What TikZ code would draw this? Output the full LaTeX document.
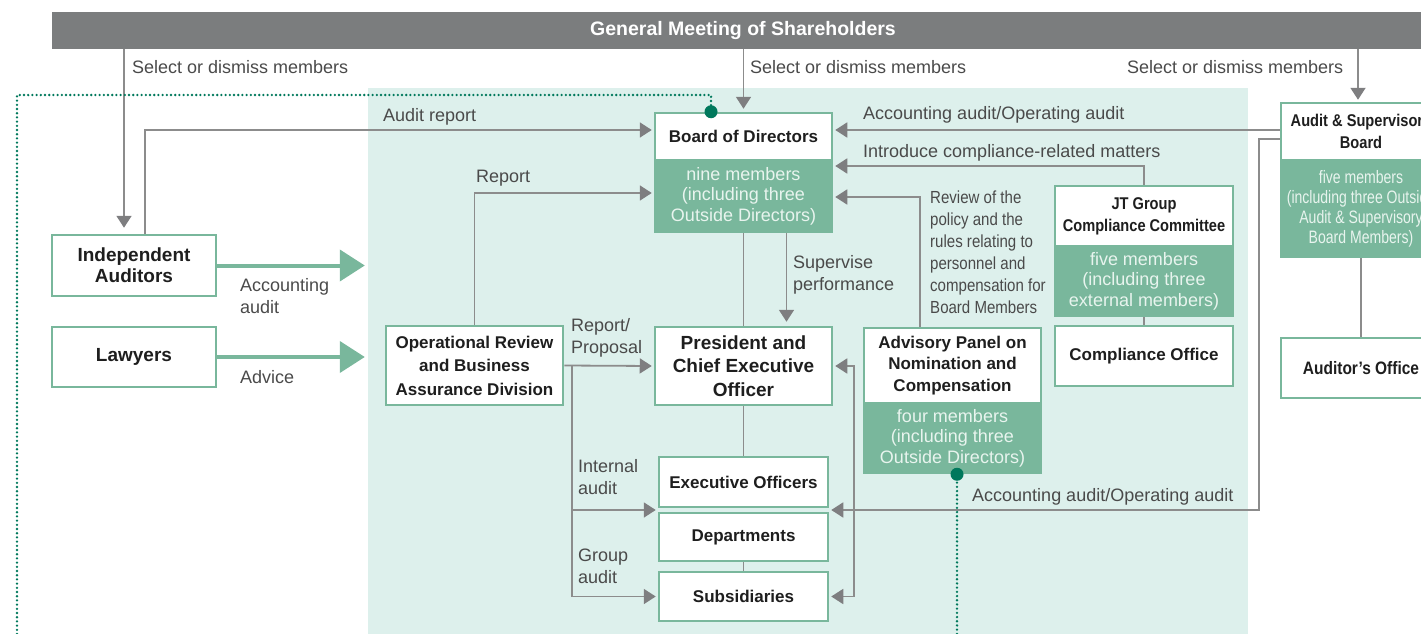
\documentclass[tikz,border=0pt]{standalone}
\usepackage{fontspec}
\setmainfont{Liberation Sans}
\newfontfamily\condfont[FakeStretch=0.86]{Liberation Sans}
\newfontfamily\narrowfont[FakeStretch=0.78]{Liberation Sans}
\usetikzlibrary{arrows.meta,calc}
\definecolor{barGray}{HTML}{7B7D7E}
\definecolor{coreTeal}{HTML}{DDF0EC}
\definecolor{boxGreen}{HTML}{79B79C}
\definecolor{lineGray}{HTML}{8C8C8C}
\definecolor{tipGray}{HTML}{7E7E80}
\definecolor{dotGreen}{HTML}{00785C}
\definecolor{noteGray}{HTML}{4A4A4A}
\definecolor{inkBlack}{HTML}{1E1E1E}
\definecolor{memberText}{HTML}{E8F4EE}
\tikzset{
  unit box/.style={draw=boxGreen, line width=2.5pt, fill=white, inner sep=0pt, align=center,
    text=inkBlack, font=\bfseries\fontsize{17}{21}\selectfont},
  member part/.style={draw=boxGreen, fill=boxGreen, line width=2.5pt, inner sep=0pt, align=center,
    text=memberText, font=\fontsize{18}{20.5}\selectfont},
  link/.style={draw=lineGray, line width=1.8pt},
  arr/.style={link, shorten >=2pt, -{Triangle[length=12pt,width=15pt,color=tipGray]}},
  arrboth/.style={link, shorten >=2pt, shorten <=2pt,
    {Triangle[length=12pt,width=15pt,color=tipGray]}-{Triangle[length=12pt,width=15pt,color=tipGray]}},
  feed/.style={draw=boxGreen, line width=4pt, shorten >=3pt, -{Triangle[length=25pt,width=31pt]}},
  note/.style={text=noteGray, font=\fontsize{18}{22}\selectfont, inner sep=0pt, align=left},
  dotline/.style={draw=dotGreen, line width=2.6pt, line cap=round, dash pattern=on 0pt off 4.2pt}
}
\begin{document}
\begin{tikzpicture}[x=1pt,y=-1pt]
\useasboundingbox (0,0) rectangle (1421,634);
% background band and top bar
\node[fill=coreTeal, minimum width=880pt, minimum height=546pt, inner sep=0pt] (core) at (808,361) {};
\node[fill=barGray, minimum width=1382pt, minimum height=37pt, inner sep=0pt, text=white,
  font=\bfseries\fontsize{19.5}{22}\selectfont] (gms) at (743,30.5) {General Meeting of Shareholders};

% outside parties
\node[unit box, minimum width=164pt, minimum height=61pt, font=\bfseries\fontsize{19}{21}\selectfont] (indep) at (134,265.5) {Independent\\Auditors};
\node[unit box, minimum width=164pt, minimum height=60pt, font=\bfseries\fontsize{19}{21}\selectfont] (lawyers) at (134,357) {Lawyers};

% board and executive line
\node[member part, minimum width=177pt, minimum height=72pt] (bodb) at (743.5,196) {nine members\\(including three\\Outside Directors)};
\node[unit box, minimum width=177pt, minimum height=47pt] (bodh) at (743.5,136.5) {Board of Directors};
\node[unit box, minimum width=177pt, minimum height=78pt, font=\bfseries\fontsize{19}{23.5}\selectfont] (pres) at (743.5,366) {President and\\Chief Executive\\Officer};
\node[unit box, minimum width=169pt, minimum height=50pt] (exec) at (743.5,482) {Executive Officers};
\node[unit box, minimum width=169pt, minimum height=48pt] (dept) at (743.5,537) {Departments};
\node[unit box, minimum width=169pt, minimum height=49pt] (subs) at (743.5,596.5) {Subsidiaries};
\node[unit box, minimum width=177pt, minimum height=79pt, font=\bfseries\fontsize{17}{23.5}\selectfont] (ops) at (474.5,365.5) {Operational Review\\and Business\\Assurance Division};

% committees
\node[member part, minimum width=177pt, minimum height=70pt] (advb) at (952.5,438) {four members\\(including three\\Outside Directors)};
\node[unit box, minimum width=177pt, minimum height=75pt, font=\bfseries\fontsize{17}{21.5}\selectfont] (advh) at (952.5,365.5) {Advisory Panel on\\Nomination and\\Compensation};
\node[member part, minimum width=178pt, minimum height=70pt] (jtb) at (1144,281) {five members\\(including three\\external members)};
\node[unit box, minimum width=178pt, minimum height=60pt, font=\condfont\bfseries\fontsize{17}{22}\selectfont] (jth) at (1144,216) {JT Group\\Compliance Committee};
\node[unit box, minimum width=178pt, minimum height=60pt] (comp) at (1144,356) {Compliance Office};

% audit & supervisory board
\node[member part, minimum width=160pt, minimum height=97pt, font=\narrowfont\fontsize{18}{20}\selectfont] (asbb) at (1361,208.5) {five members\\(including three Outside\\Audit \& Supervisory\\Board Members)};
\node[unit box, minimum width=160pt, minimum height=57pt, font=\condfont\bfseries\fontsize{17}{22}\selectfont] (asbh) at (1361,131.5) {Audit \& Supervisory\\Board};
\node[unit box, minimum width=160pt, minimum height=60pt, font=\condfont\bfseries\fontsize{18}{22}\selectfont] (audoff) at (1361,368) {Auditor’s Office};

% helper points
\coordinate (asbOut1) at ([yshift=1.5pt]asbh.west);
\coordinate (asbOut2) at ([yshift=-7.5pt]asbh.west);
\coordinate (iaSplit) at ([xshift=8pt]ops.east);
\coordinate (deptGapL) at ($(exec.south west)!.5!(dept.north west)$);
\coordinate (deptGapR) at ($(exec.south east)!.5!(dept.north east)$);
\coordinate (dotTop) at ([xshift=-32.5pt]bodh.north);
\coordinate (dotFoot) at (17,634);
\coordinate (advDot) at ([xshift=4.5pt]advb.south);

% connectors
\draw[arr, shorten >=6pt] ([xshift=-10pt]indep.north |- gms.south) -- ([xshift=-10pt]indep.north);
\draw[arr, shorten >=3pt] (bodh.north |- gms.south) -- (bodh.north);
\draw[arr, shorten >=2pt] ([xshift=-3pt]asbh.north |- gms.south) -- ([xshift=-3pt]asbh.north);
\draw[arr] ([xshift=11pt]indep.north) |- ([yshift=6.5pt]bodh.west);
\draw[arr] (ops.north) |- ([yshift=3pt]bodb.west);
\draw[arr] (ops.east) -- (pres.west);
\draw[arr] (iaSplit) |- (deptGapL);
\draw[arr] (iaSplit) |- (subs.west);
\draw[link] (bodb.south) -- (pres.north);
\draw[arr, shorten >=4pt] ([xshift=43pt]bodb.south) -- ([xshift=43pt]pres.north);
\draw[link] (pres.south) -- (exec.north);
\draw[link] (dept.south) -- (subs.north);
\draw[arrboth] (pres.east) -- ++(21,0) |- (subs.east);
\draw[arr] (asbOut1) -- (asbOut1 -| bodh.east);
\draw[arr] (jth.north) |- ([yshift=30pt]bodb.east);
\draw[arr] ([xshift=-32.5pt]advh.north) |- ([yshift=-1pt]bodb.east);
\draw[arr] (asbOut2) -- ++(-21,0) |- (deptGapR);
\draw[link] (jtb.south) -- (comp.north);
\draw[link] (asbb.south) -- (audoff.north);
\draw[feed] (indep.east) -- (indep.east -| core.west);
\draw[feed] (lawyers.east) -- (lawyers.east -| core.west);

% dotted boundaries
\draw[dotline] (dotFoot) -- (dotFoot |- 0,95) -| (dotTop);
\fill[dotGreen] (dotTop) circle (6.5pt);
\draw[dotline] (advDot) -- (advDot |- core.south);
\fill[dotGreen] (advDot) circle (6.5pt);

% labels
\node[note, anchor=base west] (selA) at (132,74) {Select or dismiss members};
\node[note, anchor=base west] (selB) at (750,74) {Select or dismiss members};
\node[note, anchor=base west] (selC) at (1127,74) {Select or dismiss members};
\node[note, anchor=base west] (audRep) at (383,121) {Audit report};
\node[note, anchor=base west] (rep) at (476,182) {Report};
\node[note, anchor=north west] (accAud) at (240,278) {Accounting\\audit};
\node[note, anchor=base west] (adv) at (240,383) {Advice};
\node[note, anchor=north west] (repProp) at (571,318) {Report/\\Proposal};
\node[note, anchor=north west] (intAud) at (578,459) {Internal\\audit};
\node[note, anchor=north west] (grpAud) at (578,549) {Group\\audit};
\node[note, anchor=north west] (sup) at (793,255) {Supervise\\performance};
\node[note, anchor=base west] (accTop) at (863,119) {Accounting audit/Operating audit};
\node[note, anchor=base west] (intro) at (863,157) {Introduce compliance-related matters};
\node[note, anchor=base west] (accLow) at (972,501) {Accounting audit/Operating audit};
\node[note, anchor=north west, font=\condfont\fontsize{17.5}{22}\selectfont] (review) at (930,191) {Review of the\\policy and the\\rules relating to\\personnel and\\compensation for\\Board Members};
\end{tikzpicture}
\end{document}
